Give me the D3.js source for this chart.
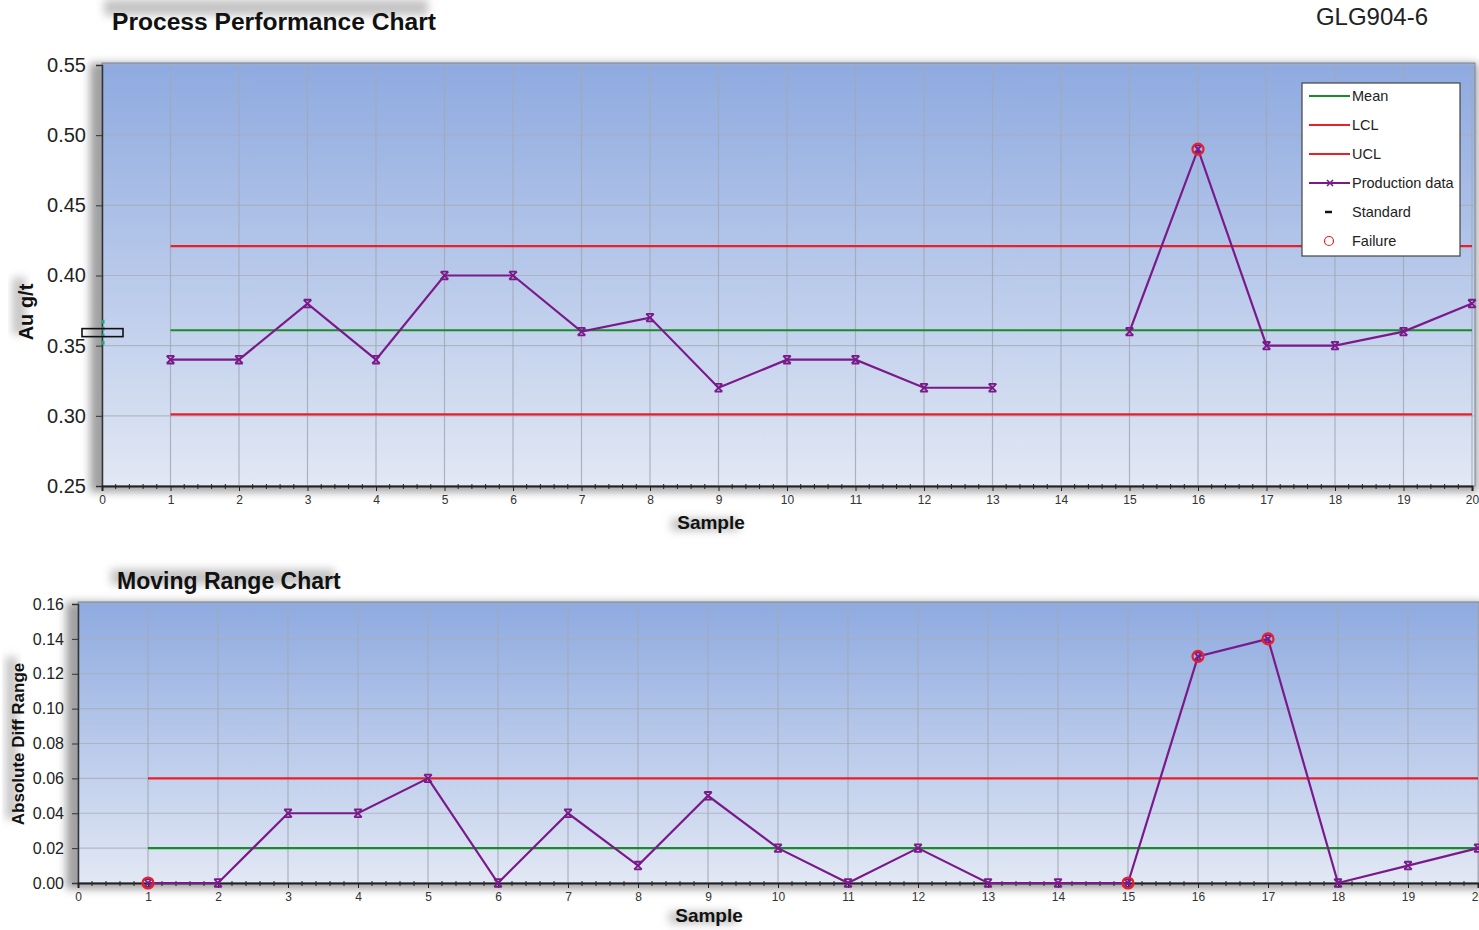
<!DOCTYPE html>
<html><head><meta charset="utf-8">
<script src="https://cdn.jsdelivr.net/npm/d3@7/dist/d3.min.js"></script>
<style>body{margin:0;background:#fff;font-family:Arial,"Liberation Sans",sans-serif}</style>
</head><body><svg id="c" width="1479" height="930"></svg>
<script>
const samples = [1,2,3,4,5,6,7,8,9,10,11,12,13,14,15,16,17,18,19,20];
const production = [0.34,0.34,0.38,0.34,0.40,0.40,0.36,0.37,0.32,0.34,0.34,0.32,0.32,null,0.36,0.49,0.35,0.35,0.36,0.38];
const prodMean = 0.361, prodLCL = 0.301, prodUCL = 0.421;
const prodFailures = [16];
const standardValue = 0.36;
const movingRange = [0,0,0.04,0.04,0.06,0,0.04,0.01,0.05,0.02,0,0.02,0,0,0,0.13,0.14,0,0.01,0.02];
const mrMean = 0.02, mrUCL = 0.06;
const mrFailures = [1,15,16,17];
const topYTicks = [0.25,0.30,0.35,0.40,0.45,0.50,0.55];
const botYTicks = [0,0.02,0.04,0.06,0.08,0.10,0.12,0.14,0.16];
const xTicks = d3.range(0,21);
const legendItems = ["Mean","LCL","UCL","Production data","Standard","Failure"];

const svg = d3.select("#c");
const defs = svg.append("defs");
const grad = defs.append("linearGradient").attr("id","bg").attr("x1",0).attr("y1",0).attr("x2",0).attr("y2",1);
grad.append("stop").attr("offset","0%").attr("stop-color","#8eaae0");
grad.append("stop").attr("offset","100%").attr("stop-color","#e2e8f4");
const blur = defs.append("filter").attr("id","blur").attr("x","-30%").attr("y","-80%").attr("width","160%").attr("height","260%");
blur.append("feGaussianBlur").attr("stdDeviation",4);
const blur2 = defs.append("filter").attr("id","blur2").attr("x","-50%").attr("y","-20%").attr("width","200%").attr("height","140%");
blur2.append("feGaussianBlur").attr("stdDeviation",4);

const PURPLE = "#7a1a8a", RED = "#e8202a", GREEN = "#1a8a2a";
const shadowLayer = svg.append("g");

function shadowText(g, x, y, txt, opts){
  const sx = opts.sx===undefined?-6:opts.sx, sy = opts.sy===undefined?-8:opts.sy;
  const t = g.append("text").attr("x",x).attr("y",y).text(txt)
   .attr("font-size",opts.size).attr("font-weight",opts.weight||"normal")
   .attr("text-anchor",opts.anchor||"start").attr("fill",opts.fill||"#111")
   .attr("transform",opts.rot?`rotate(-90,${x},${y})`:null);
  const b = t.node().getBBox();
  let rx, ry, rw, rh;
  if(opts.rot){
    // bbox in unrotated coords; rotated box
    rx = x - (y - b.y) ; // approximate
    rw = b.height*0.6; rh = b.width;
    rx = x - b.height*0.75 + sy; ry = y - (b.x + b.width - x) + sx; 
    if((opts.anchor||"start")==="middle") ry = y - b.width/2 + sx;
    else ry = y - b.width + sx;
  } else {
    rx = b.x + sx; ry = b.y + b.height*0.2 + sy; rw = b.width; rh = b.height*0.6;
  }
  shadowLayer.append("rect").attr("x",rx).attr("y",ry).attr("width",rw).attr("height",rh)
    .attr("fill","#c4c4c4").attr("filter","url(#blur)");
}

function panel(cfg){
  const g = svg.append("g");
  const x = d3.scaleLinear().domain([0,20]).range([cfg.x0,cfg.x1]);
  const y = d3.scaleLinear().domain(cfg.yDomain).range([cfg.y1,cfg.y0]);
  g.append("rect").attr("x",cfg.x0-12).attr("y",cfg.y0-2).attr("width",cfg.x1-cfg.x0+18).attr("height",cfg.y1-cfg.y0+8)
    .attr("fill","#555").attr("opacity",0.55).attr("filter","url(#blur2)");
  g.append("rect").attr("x",cfg.x0).attr("y",cfg.y0-2).attr("width",cfg.plotW).attr("height",cfg.y1-cfg.y0+2)
    .attr("fill","url(#bg)").attr("stroke","#7f8793").attr("stroke-width",1);
  g.append("g").selectAll("line").data(cfg.yTicks).join("line")
    .attr("x1",cfg.x0).attr("x2",cfg.x0+cfg.plotW).attr("y1",d=>y(d)).attr("y2",d=>y(d))
    .attr("stroke","#a8aebb").attr("stroke-width",1.2).attr("opacity",0.8);
  g.append("g").selectAll("line").data(xTicks.slice(1)).join("line")
    .attr("x1",d=>x(d)).attr("x2",d=>x(d)).attr("y1",cfg.y0).attr("y2",cfg.y1)
    .attr("stroke","#a2a9b6").attr("stroke-width",1.2).attr("opacity",0.85);
  const ya = g.append("g").attr("transform",`translate(${cfg.x0},0)`)
    .call(d3.axisLeft(y).tickValues(cfg.yTicks).tickFormat(d3.format(".2f")).tickSize(6).tickPadding(cfg.yPad));
  ya.select(".domain").attr("stroke","#333").attr("stroke-width",1.5);
  ya.selectAll(".tick line").attr("stroke","#333");
  ya.selectAll("text").attr("font-size",cfg.yFont).attr("fill","#222").attr("font-family","Arial,Liberation Sans,sans-serif");
  const xa = g.append("g").attr("transform",`translate(0,${cfg.y1})`)
    .call(d3.axisBottom(x).tickValues(xTicks).tickFormat(d3.format("d")).tickSize(5).tickPadding(4));
  xa.select(".domain").attr("stroke","#222").attr("stroke-width",2);
  xa.selectAll(".tick line").attr("stroke","#222");
  xa.selectAll("text").attr("font-size",12).attr("fill","#333").attr("font-family","Arial,Liberation Sans,sans-serif");
  const minor = d3.range(0,20.001,0.2).filter(v=>Math.abs(v-Math.round(v))>0.01);
  g.append("g").selectAll("line").data(minor).join("line")
    .attr("x1",d=>x(d)).attr("x2",d=>x(d)).attr("y1",cfg.y1-2).attr("y2",cfg.y1+3)
    .attr("stroke","#222").attr("stroke-width",1);
  return {g,x,y};
}

function hline(p, v, color){
  p.g.append("line").attr("x1",p.x(1)).attr("x2",p.x(20)).attr("y1",p.y(v)).attr("y2",p.y(v))
    .attr("stroke",color).attr("stroke-width",2.2);
}
function series(p, vals, fails){
  const data = samples.map((s,i)=>({s,v:vals[i]}));
  const line = d3.line().defined(d=>d.v!==null).x(d=>p.x(d.s)).y(d=>p.y(d.v));
  p.g.append("path").datum(data).attr("d",line).attr("fill","none").attr("stroke",PURPLE).attr("stroke-width",2.2);
  const pts = data.filter(d=>d.v!==null);
  p.g.append("g").selectAll("path").data(pts).join("path")
    .attr("d",d=>{const cx=p.x(d.s), cy=p.y(d.v), r=3.8; return `M${cx-r},${cy-r}L${cx+r},${cy+r}M${cx+r},${cy-r}L${cx-r},${cy+r}M${cx-r},${cy-r}H${cx+r}M${cx-r},${cy+r}H${cx+r}`;})
    .attr("stroke",PURPLE).attr("stroke-width",1.8).attr("fill","none");
  p.g.append("g").selectAll("circle").data(pts.filter(d=>fails.includes(d.s))).join("circle")
    .attr("cx",d=>p.x(d.s)).attr("cy",d=>p.y(d.v)).attr("r",5.5)
    .attr("fill","none").attr("stroke",RED).attr("stroke-width",2.2);
}

// ---- Top chart
const topP = panel({x0:102,x1:1472,plotW:1373,y0:65,y1:486,yDomain:[0.25,0.55],yTicks:topYTicks,yFont:20,yPad:10});
hline(topP, prodMean, GREEN);
hline(topP, prodLCL, RED);
hline(topP, prodUCL, RED);
series(topP, production, prodFailures);
topP.g.append("line").attr("x1",topP.x(0)+1).attr("x2",topP.x(0)+1).attr("y1",topP.y(standardValue)-12).attr("y2",topP.y(standardValue)+14)
  .attr("stroke","#2aa080").attr("stroke-width",3).attr("stroke-dasharray","4,3");
topP.g.append("rect").attr("x",topP.x(0)-20).attr("y",topP.y(standardValue)-3).attr("width",41).attr("height",8)
  .attr("fill","none").attr("stroke","#111").attr("stroke-width",1.6);

const lg = topP.g.append("g").attr("transform","translate(1302,83)");
lg.append("rect").attr("width",158).attr("height",173).attr("fill","#fff").attr("stroke","#444").attr("stroke-width",1.2);
legendItems.forEach((name,i)=>{
  const yy = 13 + i*29;
  const it = lg.append("g").attr("transform",`translate(0,${yy})`);
  if(i<4){
    it.append("line").attr("x1",7).attr("x2",48).attr("y1",0).attr("y2",0)
      .attr("stroke",[GREEN,RED,RED,PURPLE][i]).attr("stroke-width",2);
    if(i===3) it.append("path").attr("d","M25,-3L31,3M31,-3L25,3").attr("stroke",PURPLE).attr("stroke-width",1.5);
  } else if(i===4){
    it.append("line").attr("x1",23).attr("x2",30).attr("y1",0).attr("y2",0).attr("stroke","#111").attr("stroke-width",2.5);
  } else {
    it.append("circle").attr("cx",27).attr("cy",0).attr("r",4.5).attr("fill","none").attr("stroke",RED).attr("stroke-width",1.2);
  }
  it.append("text").attr("x",50).attr("y",5).text(name).attr("font-size",14.5).attr("fill","#222");
});

shadowText(svg, 112, 30, "Process Performance Chart", {size:24.6, weight:"bold", sx:-8, sy:-14});
svg.append("text").attr("x",1428).attr("y",25).attr("text-anchor","end").text("GLG904-6").attr("font-size",24).attr("fill","#222");
shadowText(svg, 33, 312, "Au g/t", {size:20, weight:"bold", anchor:"middle", rot:true, sx:-6, sy:-4});
shadowText(svg, 711, 529, "Sample", {size:19, weight:"bold", anchor:"middle", sx:-6, sy:2});

// ---- Bottom chart
const botP = panel({x0:78,x1:1478,plotW:1401,y0:604,y1:883,yDomain:[0,0.16],yTicks:botYTicks,yFont:16,yPad:8});
hline(botP, mrMean, GREEN);
hline(botP, mrUCL, RED);
series(botP, movingRange, mrFailures);
shadowText(svg, 117, 589, "Moving Range Chart", {size:23, weight:"bold", sx:-6, sy:-4});
shadowText(svg, 24, 744, "Absolute  Diff Range", {size:17, weight:"bold", anchor:"middle", rot:true, sx:-6, sy:-4});
shadowText(svg, 709, 922, "Sample", {size:19, weight:"bold", anchor:"middle", sx:-6, sy:2});
</script></body></html>
